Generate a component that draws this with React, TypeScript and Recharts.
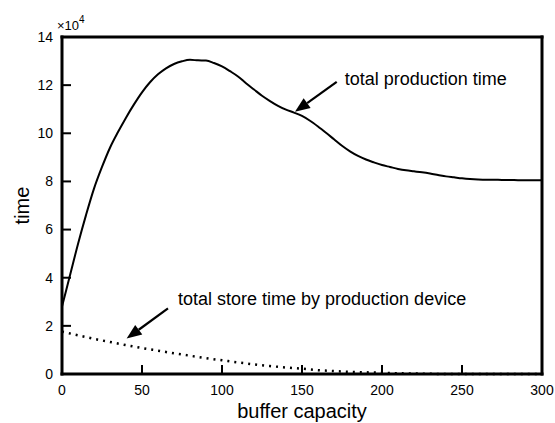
import { LineChart, Line, XAxis, YAxis, ReferenceLine } from "recharts";

// buffer capacity steps for the production curve
const productionCapacity = [
  0, 5, 10, 15, 20, 25, 30, 35, 40, 45, 50, 55, 60, 65, 70, 75, 80, 85, 90, 95,
  100, 105, 110, 115, 120, 125, 130, 135, 140, 145, 150, 155, 160, 165, 170, 175, 180, 185, 190, 195,
  200, 205, 210, 215, 220, 225, 230, 235, 240, 245, 250, 255, 260, 265, 270, 275, 280, 285, 290, 295, 300,
];
// total production time (x 10^4)
const productionTime = [
  2.8, 4.1, 5.4, 6.6, 7.7, 8.6, 9.4, 10.05, 10.65, 11.2, 11.7, 12.12, 12.45, 12.7, 12.88, 12.99, 13.05, 13.03, 13.02, 12.92,
  12.78, 12.58, 12.36, 12.08, 11.82, 11.56, 11.34, 11.14, 10.98, 10.86, 10.72, 10.52, 10.28, 10.02, 9.75, 9.48, 9.25, 9.06, 8.91, 8.79,
  8.68, 8.6, 8.52, 8.46, 8.42, 8.38, 8.33, 8.27, 8.21, 8.17, 8.13, 8.1, 8.08, 8.07, 8.07, 8.06, 8.06, 8.05, 8.05, 8.05, 8.05,
];

// buffer capacity steps for the store curve
const storeCapacity = [
  0, 10, 20, 30, 40, 50, 60, 70, 80, 90, 100, 110, 120, 130, 140, 150,
  160, 170, 180, 190, 200, 210, 220, 230, 240, 250, 260, 270, 280, 290, 300,
];
// total store time by production device (x 10^4)
const storeTime = [
  1.76, 1.61, 1.46, 1.33, 1.2, 1.08, 0.97, 0.86, 0.76, 0.66, 0.57, 0.48, 0.4, 0.33, 0.27, 0.22,
  0.16, 0.12, 0.09, 0.07, 0.05, 0.03, 0.02, 0.01, 0, 0, 0, 0, 0, 0, 0,
];

const xTicks = [0, 50, 100, 150, 200, 250, 300];
const yTicks = [0, 2, 4, 6, 8, 10, 12, 14];

const FONT = '"Liberation Sans", Arial, sans-serif';

const productionData = productionCapacity.map((x, i) => ({ x, y: productionTime[i] }));
const storeData = storeCapacity.map((x, i) => ({ x, y: storeTime[i] }));

// arrows: tail -> tip in data coords, text drawn next to the tail
const annotations = [
  { text: "total production time", tail: { x: 171.7, y: 12.14 }, tip: { x: 145.6, y: 10.89 }, dx: 8, dy: 3 },
  { text: "total store time by production device", tail: { x: 66.25, y: 2.73 }, tip: { x: 40.4, y: 1.47 }, dx: 10, dy: -3 },
];

// tick label plus a short inward tick mark
function YTick({ x, y, payload }: any) {
  return (
    <g>
      <path d={`M${x},${y}h9`} stroke="#000" strokeWidth={2} fill="none" />
      <text x={x - 9} y={y} dy="0.35em" textAnchor="end" fontSize={14} fontFamily={FONT} fill="#000" stroke="none">
        {payload.value}
      </text>
    </g>
  );
}

function XTick({ x, y, payload }: any) {
  return (
    <g>
      <path d={`M${x},${y}v-9`} stroke="#000" strokeWidth={2} fill="none" />
      <text x={x} y={y + 21} textAnchor="middle" fontSize={14} fontFamily={FONT} fill="#000" stroke="none">
        {payload.value}
      </text>
    </g>
  );
}

// frame edge
const edgeShape = (p: any) => (
  <path d={`M${p.x1},${p.y1}L${p.x2},${p.y2}`} stroke="#000" strokeWidth={3} strokeLinecap="square" fill="none" />
);

function ArrowShape({ x1, y1, x2, y2, text, dx, dy }: any) {
  const ang = Math.atan2(y2 - y1, x2 - x1);
  const len = 15;
  const hw = 6;
  const bx = x2 - len * Math.cos(ang);
  const by = y2 - len * Math.sin(ang);
  const px = -Math.sin(ang) * hw;
  const py = Math.cos(ang) * hw;
  return (
    <g>
      <line x1={x1} y1={y1} x2={bx} y2={by} stroke="#000" strokeWidth={2.2} />
      <polygon points={`${x2},${y2} ${bx + px},${by + py} ${bx - px},${by - py}`} fill="#000" />
      <text x={x1 + dx} y={y1 + dy} fontSize={18} fontFamily={FONT} fill="#000">
        {text}
      </text>
    </g>
  );
}

export default function App() {
  return (
    <div style={{ position: "absolute", left: 0, top: 0, width: 555, height: 423, background: "#fff" }}>
      <LineChart width={555} height={423} margin={{ top: 37, right: 13, bottom: 19, left: 22 }}>
        <XAxis
          type="number"
          dataKey="x"
          domain={[0, 300]}
          ticks={xTicks}
          height={30}
          axisLine={false}
          tickLine={false}
          tickSize={0}
          tickMargin={0}
          tick={<XTick />}
          label={{
            content: ({ viewBox }: any) => (
              <text x={viewBox.x + viewBox.width / 2} y={viewBox.y + 44} textAnchor="middle" fontSize={20} fontFamily={FONT} fill="#000">
                buffer capacity
              </text>
            ),
          }}
        />
        <YAxis
          type="number"
          domain={[0, 14]}
          ticks={yTicks}
          width={40}
          axisLine={false}
          tickLine={false}
          tickSize={0}
          tickMargin={0}
          tick={<YTick />}
          label={{
            content: ({ viewBox }: any) => {
              const cx = viewBox.x;
              const cy = viewBox.y + viewBox.height / 2;
              return (
                <g>
                  <text x={cx} y={cy} transform={`rotate(-90 ${cx} ${cy})`} textAnchor="middle" dominantBaseline="central" fontSize={20} fontFamily={FONT} fill="#000">
                    time
                  </text>
                  <text x={viewBox.x + viewBox.width - 5} y={viewBox.y - 7} fontSize={13} fontFamily={FONT} fill="#000">
                    ×10
                    <tspan fontSize={10} dy={-7}>4</tspan>
                  </text>
                </g>
              );
            },
          }}
        />
        <Line
          data={productionData}
          dataKey="y"
          type="monotone"
          stroke="#000"
          strokeWidth={2}
          dot={false}
          isAnimationActive={false}
        />
        <Line
          data={storeData}
          dataKey="y"
          type="monotone"
          stroke="#000"
          strokeWidth={2.5}
          strokeDasharray="2 5"
          dot={false}
          isAnimationActive={false}
        />
        <ReferenceLine x={0} shape={edgeShape} />
        <ReferenceLine x={300} shape={edgeShape} />
        <ReferenceLine y={0} shape={edgeShape} />
        <ReferenceLine y={14} shape={edgeShape} />
        {annotations.map((a) => (
          <ReferenceLine
            key={a.text}
            segment={[a.tail, a.tip]}
            shape={(p: any) => <ArrowShape {...p} text={a.text} dx={a.dx} dy={a.dy} />}
          />
        ))}
      </LineChart>
    </div>
  );
}
